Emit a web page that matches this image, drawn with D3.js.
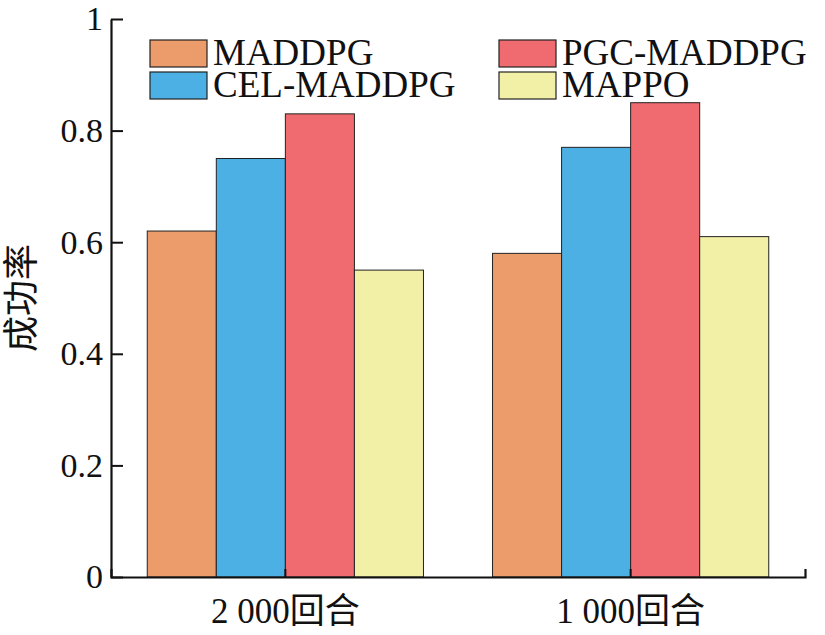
<!DOCTYPE html>
<html>
<head>
<meta charset="utf-8">
<script src="https://cdn.jsdelivr.net/npm/d3@7"></script>
<style>
  body { margin: 0; background: #fff; }
  svg text { font-family: "Liberation Serif", "Times New Roman", "Noto Sans CJK SC", serif; fill: #111; }
</style>
</head>
<body>
<div id="chart"></div>
<script>
// data
const categories = ["2 000回合", "1 000回合"];
const seriesNames = ["MADDPG", "CEL-MADDPG", "PGC-MADDPG", "MAPPO"];
const maddpg = [0.62, 0.58];
const celMaddpg = [0.75, 0.77];
const pgcMaddpg = [0.83, 0.85];
const mappo = [0.55, 0.61];
const yTicks = [0, 0.2, 0.4, 0.6, 0.8, 1];
const colors = ["#ec9c6a", "#4db0e4", "#f06b70", "#f2f0a6"];

const seriesValues = [maddpg, celMaddpg, pgcMaddpg, mappo];

const W = 825, H = 635;
const margin = { top: 19, right: 20, bottom: 58, left: 111 };
const width = W - margin.left - margin.right;
const height = H - margin.top - margin.bottom;

const svg = d3.select("#chart").append("svg")
  .attr("width", W)
  .attr("height", H);

const g = svg.append("g")
  .attr("transform", `translate(${margin.left},${margin.top})`);

const x0 = d3.scaleBand()
  .domain(categories)
  .range([0, width])
  .paddingInner(0.2)
  .paddingOuter(0.105);

const x1 = d3.scaleBand()
  .domain(seriesNames)
  .range([0, x0.bandwidth()]);

const y = d3.scaleLinear()
  .domain([0, 1])
  .range([height, 0]);

// bars
const table = categories.map((c, i) => ({
  cat: c,
  vals: seriesNames.map((s, j) => ({ name: s, value: seriesValues[j][i], color: colors[j] }))
}));

const groups = g.selectAll(".group")
  .data(table)
  .enter()
  .append("g")
  .attr("transform", d => `translate(${x0(d.cat)},0)`);

groups.selectAll("rect")
  .data(d => d.vals)
  .enter()
  .append("rect")
  .attr("x", d => x1(d.name))
  .attr("y", d => y(d.value))
  .attr("width", x1.bandwidth())
  .attr("height", d => y(0) - y(d.value))
  .attr("fill", d => d.color)
  .attr("stroke", "#222")
  .attr("stroke-width", 1);

// axes
const yAxis = d3.axisLeft(y)
  .tickValues(yTicks)
  .tickFormat(d => d === 0 ? "0" : d === 1 ? "1" : d3.format(".1f")(d))
  .tickSizeInner(-12)
  .tickSizeOuter(0)
  .tickPadding(8);

const gy = g.append("g").call(yAxis);
gy.selectAll("text").style("font-size", "34px");

const xAxis = d3.axisBottom(x0)
  .tickSizeInner(-8)
  .tickSizeOuter(-8)
  .tickPadding(21);

const gx = g.append("g")
  .attr("transform", `translate(0,${height})`)
  .call(xAxis);
gx.selectAll("text").style("font-size", "35px");

[gx, gy].forEach(a => {
  a.select(".domain").attr("stroke", "#111").attr("stroke-width", 2.2);
  a.selectAll(".tick line").attr("stroke", "#111").attr("stroke-width", 2);
});

// y label
svg.append("text")
  .attr("transform", `translate(34,${margin.top + height / 2}) rotate(-90)`)
  .attr("text-anchor", "middle")
  .style("font-size", "36px")
  .text("成功率");

// legend
const legendPos = [[150, 40], [150, 72], [499, 40], [499, 72]];
const legend = svg.selectAll(".legend")
  .data(seriesNames)
  .enter()
  .append("g")
  .attr("transform", (d, i) => `translate(${legendPos[i][0]},${legendPos[i][1]})`);

legend.append("rect")
  .attr("width", 57)
  .attr("height", 27)
  .attr("fill", (d, i) => colors[i])
  .attr("stroke", "#222")
  .attr("stroke-width", 1.2);

legend.append("text")
  .attr("x", 63)
  .attr("y", 25)
  .style("font-size", "37px")
  .text(d => d);
</script>
</body>
</html>
